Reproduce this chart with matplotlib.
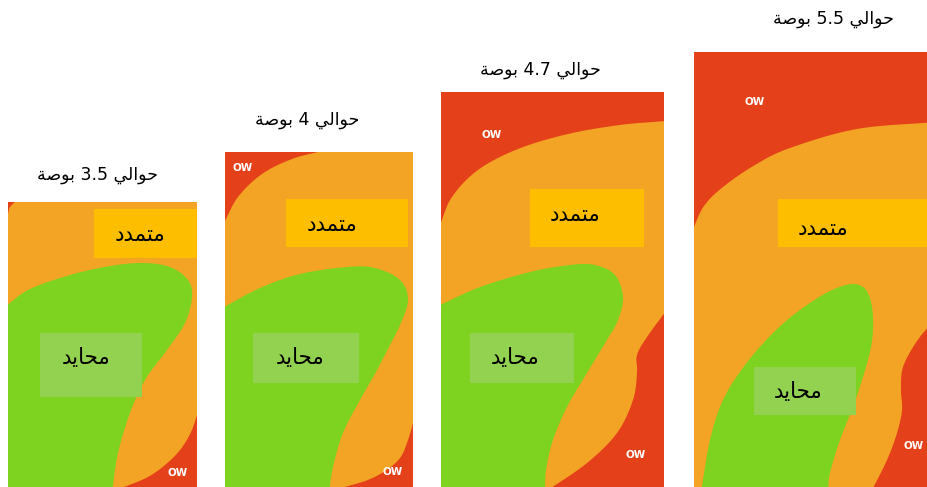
import numpy as np
import matplotlib
matplotlib.use("Agg")
import matplotlib.pyplot as plt
from matplotlib.patches import Rectangle, Polygon

# ---------------- data ----------------
screen_sizes = ["3.5", "4", "4.7", "5.5"]          # inches
title_word_before = "حوالي"
title_word_after = "بوصة"
zone_stretch = "متمدد"
zone_natural = "محايد"
zone_ow = "OW"

# ---------------- colours ----------------
RED = "#E4411A"
ORANGE = "#F3A425"
GREEN = "#7ED321"
YELLOW_BOX = "#FDBE00"
GREEN_BOX = "#93D150"

# ---------------- simple Arabic shaping ----------------
# letter: (isolated, final, initial, medial)
FORMS = {
    "ح": ("\uFEA1", "\uFEA2", "\uFEA3", "\uFEA4"),
    "و": ("\uFEED", "\uFEEE", None, None),
    "ا": ("\uFE8D", "\uFE8E", None, None),
    "ل": ("\uFEDD", "\uFEDE", "\uFEDF", "\uFEE0"),
    "ي": ("\uFEF1", "\uFEF2", "\uFEF3", "\uFEF4"),
    "ب": ("\uFE8F", "\uFE90", "\uFE91", "\uFE92"),
    "ص": ("\uFEB9", "\uFEBA", "\uFEBB", "\uFEBC"),
    "ة": ("\uFE93", "\uFE94", None, None),
    "م": ("\uFEE1", "\uFEE2", "\uFEE3", "\uFEE4"),
    "ت": ("\uFE95", "\uFE96", "\uFE97", "\uFE98"),
    "د": ("\uFEA9", "\uFEAA", None, None),
}


def shape_word(word):
    if not any(c in FORMS for c in word):
        return word
    out = []
    for i, c in enumerate(word):
        f = FORMS[c]
        prev = word[i - 1] if i > 0 else None
        nxt = word[i + 1] if i + 1 < len(word) else None
        joins_prev = prev is not None and prev in FORMS and FORMS[prev][2] is not None
        joins_next = nxt is not None and nxt in FORMS and f[2] is not None
        if joins_prev and joins_next:
            g = f[3]
        elif joins_prev:
            g = f[1]
        elif joins_next:
            g = f[2]
        else:
            g = f[0]
        out.append(g)
    return "".join(reversed(out))


def visual(text):
    tokens = text.split(" ")
    return " ".join(shape_word(t) for t in reversed(tokens))


# ---------------- geometry (pixel layout of the illustration) ----------------
phones = [  # x0, y0, x1, y1
    (8, 202, 197, 490),
    (225, 152, 413, 490),
    (441, 92, 664, 490),
    (694, 52, 935, 490),
]
title_pos = [(97, 175), (307, 120), (540, 70), (833, 19)]

top_red = [
    [(8, 214), (10, 207), (16, 201)],
    [(224, 223), (238, 197), (262, 174), (292, 159), (322, 151)],
    [(440, 225), (452, 197), (478, 170), (518, 149), (568, 134), (620, 125), (666, 121)],
    [(693, 229), (704, 206), (723, 187), (755, 165), (790, 148), (857, 129), (936, 122)],
]
green_zone = [
    [(7, 305), (30, 289), (70, 275), (110, 266), (143, 263), (170, 267), (188, 280),
     (192, 297), (185, 323), (167, 350), (145, 380), (130, 413), (118, 453), (112, 492)],
    [(224, 307), (260, 288), (300, 274), (347, 267), (375, 268), (400, 280), (408, 300),
     (400, 325), (390, 345), (376, 372), (360, 400), (343, 433), (333, 467), (329, 492)],
    [(440, 305), (480, 287), (530, 272), (570, 265), (595, 265), (615, 275), (623, 297),
     (618, 320), (607, 340), (587, 373), (567, 407), (553, 440), (546, 470), (545, 492)],
    [(701, 492), (710, 440), (723, 400), (745, 365), (773, 333), (800, 310), (830, 291),
     (853, 284), (866, 290), (872, 307), (873, 330), (870, 352), (862, 380), (853, 407),
     (840, 440), (830, 473), (828, 492)],
]
green_close = [[(7, 492)], [(224, 492)], [(440, 492)], []]
bottom_red = [
    [(199, 409), (191, 432), (180, 450), (165, 465), (146, 478), (116, 490)],
    [(415, 416), (408, 440), (400, 458), (385, 471), (365, 481), (333, 490)],
    [(666, 311), (647, 337), (637, 355), (637, 373), (633, 400), (617, 433), (587, 463), (548, 490)],
    [(936, 318), (917, 341), (903, 367), (901, 390), (902, 410), (897, 433), (887, 460), (872, 490)],
]
yellow_boxes = [(94, 209, 197, 258), (286, 199, 408, 247), (530, 189, 644, 247), (778, 199, 935, 247)]
yellow_text = [(140, 235), (332, 225), (575, 215), (823, 229)]
green_boxes = [(40, 333, 142, 397), (253, 333, 359, 383), (470, 333, 574, 383), (754, 367, 856, 415)]
green_text = [(86, 358), (300, 358), (515, 358), (798, 392)]
ow_pos = [
    [(178, 473)],
    [(243, 168), (393, 472)],
    [(492, 135), (636, 455)],
    [(755, 102), (914, 446)],
]


def smooth(pts, n=16):
    """Catmull-Rom spline through outline points."""
    p = np.asarray(pts, float)
    if len(p) < 3:
        return p
    ext = np.vstack([2 * p[0] - p[1], p, 2 * p[-1] - p[-2]])
    out = []
    t = np.linspace(0, 1, n, endpoint=False)[:, None]
    for i in range(1, len(ext) - 2):
        p0, p1, p2, p3 = ext[i - 1], ext[i], ext[i + 1], ext[i + 2]
        seg = 0.5 * ((2 * p1) + (-p0 + p2) * t + (2 * p0 - 5 * p1 + 4 * p2 - p3) * t ** 2
                     + (-p0 + 3 * p1 - 3 * p2 + p3) * t ** 3)
        out.append(seg)
    out.append(p[-1][None, :])
    return np.vstack(out)


# ---------------- figure ----------------
plt.rcParams["font.family"] = ["DejaVu Sans"]
fig = plt.figure(figsize=(9.27, 4.87), dpi=100)
ax = fig.add_axes([0, 0, 1, 1])
ax.set_xlim(0, 927)
ax.set_ylim(487, 0)
ax.axis("off")

for i, size in enumerate(screen_sizes):
    x0, y0, x1, y1 = phones[i]
    clip = Rectangle((x0, y0), x1 - x0, y1 - y0, transform=ax.transData)
    bg = Rectangle((x0, y0), x1 - x0, y1 - y0, facecolor=RED, edgecolor="none")
    ax.add_patch(bg)

    # orange: everything below the top red curve
    curve = smooth(top_red[i])
    orange_pts = np.vstack([curve, [(x1 + 5, y0 - 5), (x1 + 5, y1 + 5), (x0 - 5, y1 + 5)]])
    p = Polygon(orange_pts, closed=True, facecolor=ORANGE, edgecolor="none")
    ax.add_patch(p)
    p.set_clip_path(clip)

    # red bottom-right corner
    curve = smooth(bottom_red[i])
    br_pts = np.vstack([curve, [(x1 + 5, y1 + 5)]])
    p = Polygon(br_pts, closed=True, facecolor=RED, edgecolor="none")
    ax.add_patch(p)
    p.set_clip_path(clip)

    # green natural zone
    curve = smooth(green_zone[i])
    extra = np.asarray(green_close[i], float).reshape(-1, 2)
    g_pts = np.vstack([curve, extra]) if len(extra) else curve
    p = Polygon(g_pts, closed=True, facecolor=GREEN, edgecolor="none")
    ax.add_patch(p)
    p.set_clip_path(clip)

    # label boxes
    bx0, by0, bx1, by1 = yellow_boxes[i]
    p = Rectangle((bx0, by0), bx1 - bx0, by1 - by0, facecolor=YELLOW_BOX, edgecolor="none")
    ax.add_patch(p)
    p.set_clip_path(clip)
    ax.text(*yellow_text[i], visual(zone_stretch), fontsize=15.5, ha="center", va="center",
            color="black")

    bx0, by0, bx1, by1 = green_boxes[i]
    ax.add_patch(Rectangle((bx0, by0), bx1 - bx0, by1 - by0, facecolor=GREEN_BOX, edgecolor="none"))
    ax.text(*green_text[i], visual(zone_natural), fontsize=15.5, ha="center", va="center",
            color="black")

    for (ox, oy) in ow_pos[i]:
        ax.text(ox, oy, zone_ow, fontsize=7.5, fontweight="bold", color="white",
                ha="center", va="center")

    title = f"{title_word_before} {size} {title_word_after}"
    ax.text(*title_pos[i], visual(title), fontsize=12.5, ha="center", va="center", color="black")

fig.savefig("out.png", dpi=100)
